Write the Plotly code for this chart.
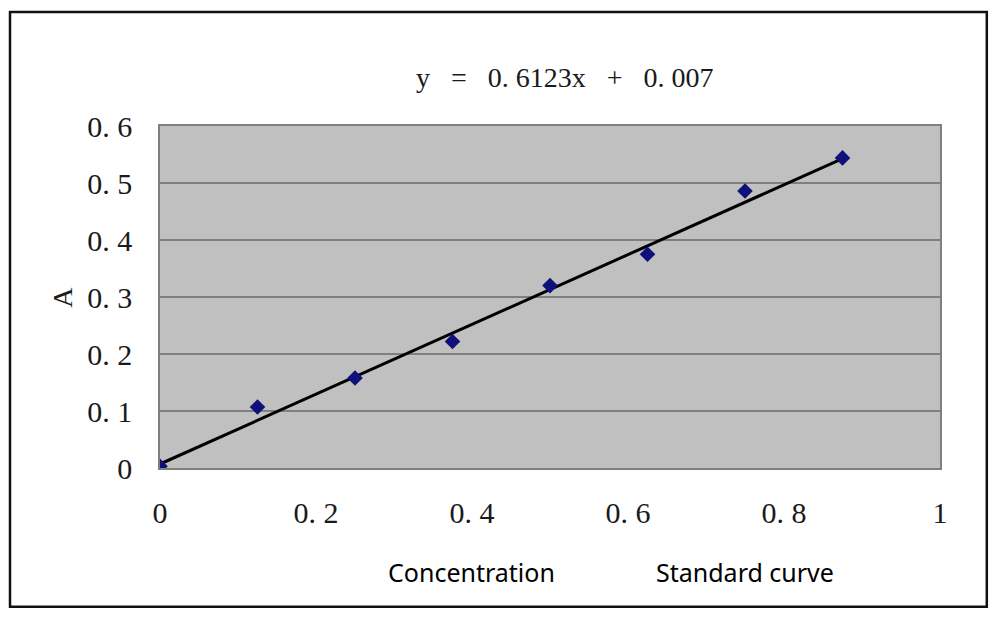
import plotly.graph_objects as go

# concentration vs absorbance
conc = [0, 0.125, 0.25, 0.375, 0.5, 0.625, 0.75, 0.875]
absorb = [0.003, 0.107, 0.158, 0.222, 0.32, 0.375, 0.486, 0.544]

# trend line given in the chart
slope = 0.6123
intercept = 0.007
fit_x = [0, 0.875]
fit_y = [slope * x + intercept for x in fit_x]

x_ticks = [0, 0.2, 0.4, 0.6, 0.8, 1]
x_labels = ["0", "0. 2", "0. 4", "0. 6", "0. 8", "1"]
y_ticks = [0, 0.1, 0.2, 0.3, 0.4, 0.5, 0.6]
y_labels = ["0", "0. 1", "0. 2", "0. 3", "0. 4", "0. 5", "0. 6"]

serif = "Liberation Serif, DejaVu Serif, serif"
sans = "Noto Sans, Open Sans, sans-serif"
nb = "\u00a0"
equation = f"y{nb*3}={nb*3}0.{nb}6123x{nb*3}+{nb*3}0.{nb}007"

fig = go.Figure()
fig.add_trace(go.Scatter(x=fit_x, y=fit_y, mode="lines",
                         line=dict(color="black", width=3), showlegend=False))
fig.add_trace(go.Scatter(x=conc, y=absorb, mode="markers",
                         marker=dict(symbol="diamond", size=12, color="#10107a"),
                         showlegend=False))

fig.update_layout(
    width=1000, height=620,
    margin=dict(l=152, r=68, t=118, b=160),
    paper_bgcolor="white",
    plot_bgcolor="#c0c0c0",
    xaxis=dict(range=[0, 1], tickvals=x_ticks, ticktext=x_labels,
               showgrid=False, zeroline=False, showline=True, mirror=True,
               linecolor="#808080", linewidth=1.5,
               tickfont=dict(family=serif, size=30, color="#1a1a1a"),
               ticks="", ticklabelstandoff=17),
    yaxis=dict(range=[0, 0.6], tickvals=y_ticks, ticktext=y_labels,
               showgrid=True, gridcolor="#7f7f7f", gridwidth=1.5,
               zeroline=False, showline=True, mirror=True,
               linecolor="#808080", linewidth=1.5,
               tickfont=dict(family=serif, size=30, color="#1a1a1a"),
               ticks="", ticklabelstandoff=20),
)

def label(text, x, y, font, angle=0):
    fig.add_annotation(text=text, xref="paper", yref="paper", x=x, y=y,
                       xanchor="center", yanchor="middle", textangle=angle,
                       showarrow=False, font=font)

label(equation, 0.519, 1.143, dict(family=serif, size=28, color="#1a1a1a"))
label("A", -0.126, 0.5, dict(family=serif, size=28, color="#1a1a1a"), angle=-90)
label("Concentration", 0.399, -0.304, dict(family=sans, size=25, color="black"))
label("Standard curve", 0.75, -0.304, dict(family=sans, size=25, color="black"))

# outer frame around the whole chart
fig.add_shape(type="rect", xref="paper", yref="paper",
              x0=-0.1923, x1=1.060, y0=-0.406, y1=1.333,
              line=dict(color="#111", width=2.5))

fig.write_html("out.html")
